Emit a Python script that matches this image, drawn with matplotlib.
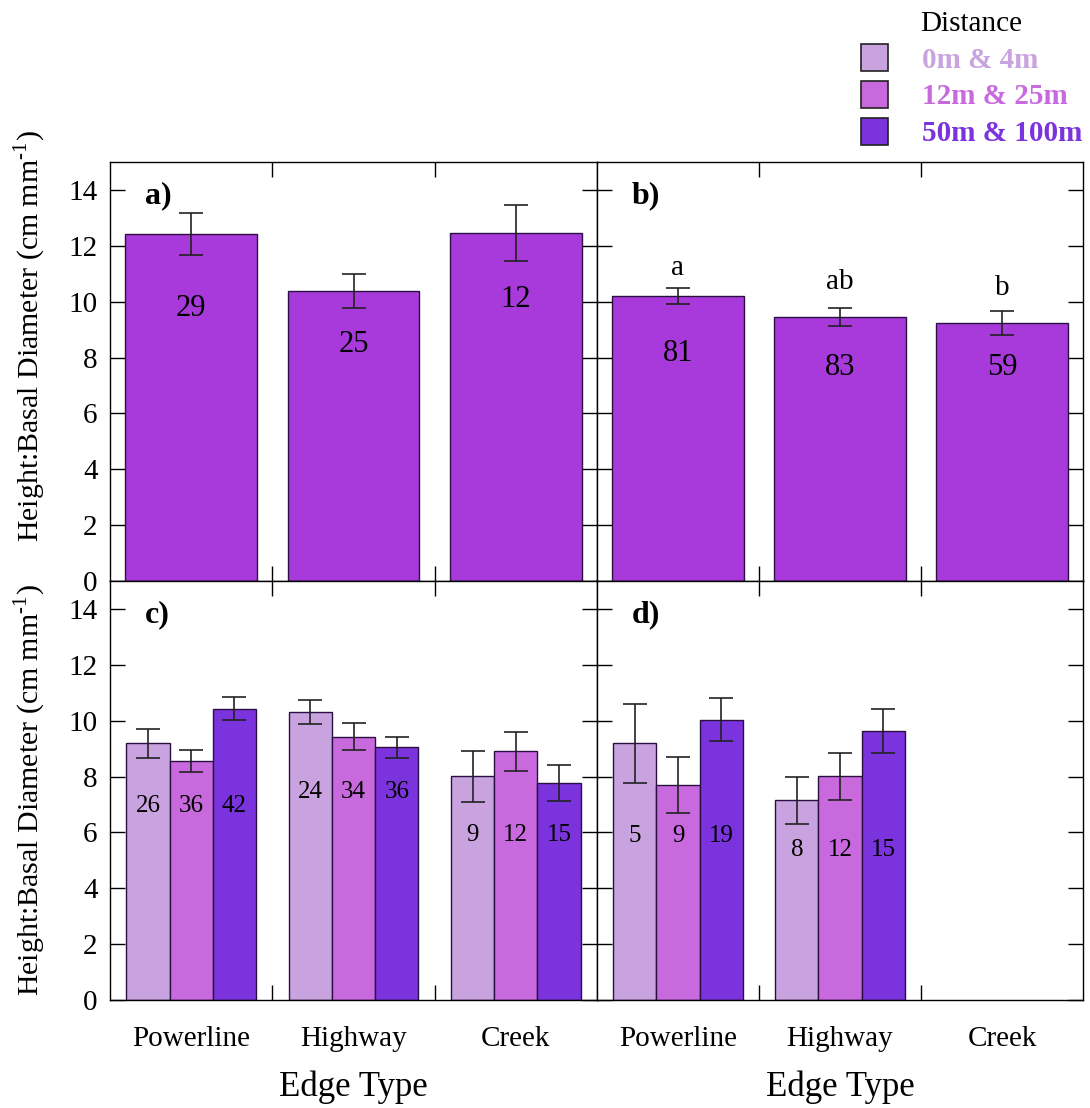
import numpy as np
import matplotlib
matplotlib.use("Agg")
import matplotlib.pyplot as plt
from matplotlib.patches import Patch

plt.rcParams['font.family'] = ['Liberation Serif', 'DejaVu Serif']
plt.rcParams['mathtext.fontset'] = 'custom'
plt.rcParams['mathtext.rm'] = 'Liberation Serif'

edge_types = ["Powerline", "Highway", "Creek"]
distances = ["0m & 4m", "12m & 25m", "50m & 100m"]

# a) and b): pooled means
a_mean = [12.42, 10.38, 12.45]
a_err = [0.75, 0.62, 1.01]
a_n = ["29", "25", "12"]
a_n_y = [9.74, 8.45, 10.06]

b_mean = [10.20, 9.45, 9.24]
b_err = [0.30, 0.32, 0.42]
b_n = ["81", "83", "59"]
b_n_y = [8.16, 7.63, 7.63]
b_letters = ["a", "ab", "b"]
b_letters_y = [10.96, 10.45, 10.24]

# c) and d): by distance (rows = distance class, cols = edge type)
c_mean = [[9.19, 10.31, 8.01],
          [8.55, 9.43, 8.90],
          [10.43, 9.05, 7.76]]
c_err = [[0.52, 0.42, 0.92],
         [0.40, 0.48, 0.71],
         [0.40, 0.37, 0.65]]
c_n = [["26", "24", "9"],
       ["36", "34", "12"],
       ["42", "36", "15"]]
c_n_y = [6.95, 7.46, 5.90]

d_mean = [[9.19, 7.15, np.nan],
          [7.69, 8.01, np.nan],
          [10.04, 9.62, np.nan]]
d_err = [[1.42, 0.85, np.nan],
         [1.00, 0.85, np.nan],
         [0.78, 0.78, np.nan]]
d_n = [["5", "8", ""],
       ["9", "12", ""],
       ["19", "15", ""]]
d_n_y = [5.87, 5.37, 5.37]

top_color = "#A83ADB"
dist_colors = ["#C9A3DF", "#C86ADE", "#7B33DD"]

W, H = 1090, 1108
fig = plt.figure(figsize=(W / 100, H / 100), dpi=100)

x0, xm, x1 = 110 / W, 597 / W, 1083 / W
y_top, y_mid, y_bot = 1 - 162 / H, 1 - 581 / H, 1 - 1000 / H
ax_a = fig.add_axes([x0, y_mid, xm - x0, y_top - y_mid])
ax_b = fig.add_axes([xm, y_mid, x1 - xm, y_top - y_mid])
ax_c = fig.add_axes([x0, y_bot, xm - x0, y_mid - y_bot])
ax_d = fig.add_axes([xm, y_bot, x1 - xm, y_mid - y_bot])

x = np.arange(len(edge_types))
ekw = dict(ecolor="#222222", elinewidth=1.2, capsize=8.5, capthick=1.2)


def style(ax, label, bottom_row, left_col, ylab_y=0.5):
    ax.set_xlim(-0.5, 2.5)
    ax.set_ylim(0, 15)
    ax.set_yticks(np.arange(0, 15, 2))
    ax.tick_params(axis="y", direction="in", left=True, right=True,
                   length=11, width=1, labelsize=21, pad=9,
                   labelleft=left_col)
    ax.set_xticks(x)
    ax.set_xticks([0.5, 1.5], minor=True)
    ax.tick_params(axis="x", which="major", length=0, pad=19,
                   labelsize=21, labelbottom=bottom_row)
    ax.tick_params(axis="x", which="minor", direction="in", top=True,
                   bottom=True, length=11, width=1)
    ax.set_xticklabels(edge_types if bottom_row else [])
    for s in ax.spines.values():
        s.set_linewidth(1)
    ax.text(0.072, 0.92, label, transform=ax.transAxes, fontsize=23,
            fontweight="bold", ha="left", va="center")
    if bottom_row:
        ax.set_xlabel("Edge Type", fontsize=25, labelpad=13)
    if left_col:
        ax.set_ylabel(r"Height:Basal Diameter (cm mm$^{\text{-1}}$)",
                      fontsize=21.5)
        ax.yaxis.set_label_coords(-0.128, ylab_y)


# top row: single bars
for ax, mean, err, n, n_y in [(ax_a, a_mean, a_err, a_n, a_n_y),
                              (ax_b, b_mean, b_err, b_n, b_n_y)]:
    ax.bar(x, mean, width=0.81, color=top_color, edgecolor="#2a1040",
           linewidth=1, yerr=err, error_kw=ekw)
    for xi, t, yy in zip(x, n, n_y):
        ax.text(xi, yy, t, ha="center", va="center", fontsize=22)

for xi, t, yy in zip(x, b_letters, b_letters_y):
    ax_b.text(xi, yy, t, ha="center", va="baseline", fontsize=21)

# bottom row: grouped bars
bw = 0.8 / 3
for ax, mean, err, n, n_y in [(ax_c, c_mean, c_err, c_n, c_n_y),
                              (ax_d, d_mean, d_err, d_n, d_n_y)]:
    for i in range(3):
        xs = x + (i - 1) * bw
        ax.bar(xs, mean[i], width=bw, color=dist_colors[i],
               edgecolor="#2a1040", linewidth=1, yerr=err[i], error_kw=ekw)
        for xi, t, yy in zip(xs, n[i], n_y):
            ax.text(xi, yy, t, ha="center", va="center", fontsize=18)

style(ax_a, "a)", False, True, ylab_y=0.585)
style(ax_b, "b)", False, False)
style(ax_c, "c)", True, True, ylab_y=0.5)
style(ax_d, "d)", True, False)

handles = [Patch(facecolor=c, edgecolor="#222222", linewidth=1.2)
           for c in dist_colors]
leg = fig.legend(handles, distances, title="Distance", loc="upper right",
                 bbox_to_anchor=(1.009, 1.006), frameon=False,
                 prop=dict(size=21, weight="bold"), title_fontsize=21,
                 handlelength=0.95, handleheight=1.05, handletextpad=1.15,
                 labelspacing=0.25, borderaxespad=0.2)
for txt, c in zip(leg.get_texts(), dist_colors):
    txt.set_color(c)

fig.savefig("out.png", dpi=100)
